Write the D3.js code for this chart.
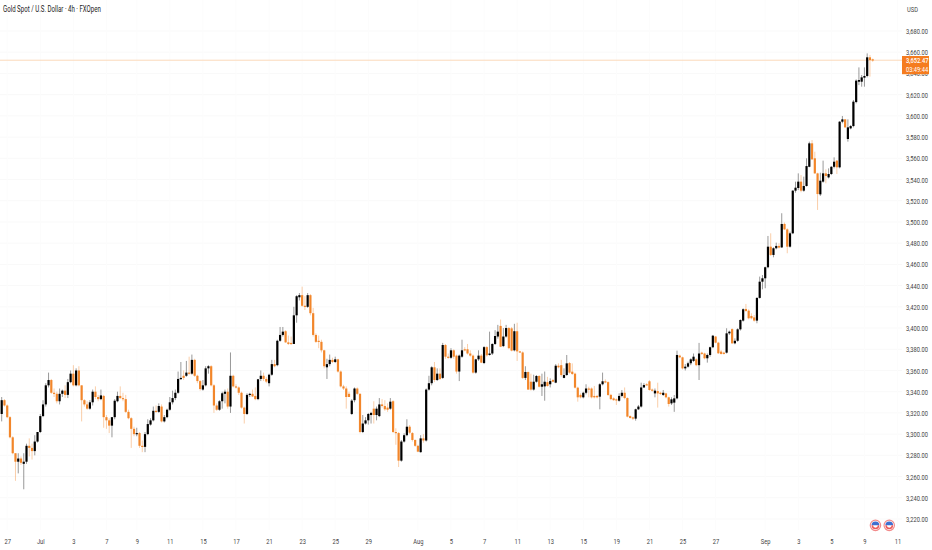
<!DOCTYPE html>
<html>
<head>
<meta charset="utf-8">
<title>Gold Spot / U.S. Dollar</title>
<script src="https://cdn.jsdelivr.net/npm/d3@7"></script>
<style>
    html, body { margin: 0; padding: 0; background: #ffffff; }
    svg { display: block; }
    text { font-family: Roboto, sans-serif; }
</style>
</head>
<body>
<svg id="vis"></svg>
<script>
// 4h candles, oldest first
const opens = [
    3319,3332,3327,3316,3297,3282,3274,3277,3272,3274,
    3289,3287,3284,3293,3302,3317,3328,3346,3351,3339,
    3338,3331,3338,3341,3337,3349,3357,3346,3360,3346,
    3332,3328,3324,3330,3340,3335,3333,3336,3316,3313,
    3308,3316,3331,3336,3334,3333,3321,3315,3305,3300,
    3301,3289,3288,3300,3309,3313,3322,3321,3326,3312,
    3316,3323,3330,3334,3339,3352,3355,3355,3358,3357,
    3370,3355,3350,3342,3346,3362,3364,3346,3327,3323,
    3331,3338,3340,3326,3355,3345,3344,3339,3325,3319,
    3337,3338,3336,3333,3352,3355,3352,3348,3356,3366,
    3365,3388,3393.5,3397,3386.5,3386,3385,3412,3429,3431,
    3421,3420,3431,3414,3393.5,3388,3387,3379,3363,3366,
    3370,3368,3370.5,3359,3345,3343,3338,3319,3332,3343,
    3338,3302,3310,3313,3318,3324,3318,3317,3328,3326.5,
    3325,3324,3331,3302,3301,3275,3293,3299,3307,3301,
    3294.5,3289,3283,3296,3294,3342,3348,3363,3351,3357,
    3353,3384,3373,3372,3379,3374,3359,3373,3380,3380,
    3376,3374,3358,3370.5,3374,3367,3382,3374.6,3376,3385,
    3392,3402,3383,3392,3400,3399.7,3379,3397,3378,3377,
    3353,3358.6,3349.4,3342,3349.4,3354.8,3344.7,3345,3349,3347,
    3351,3348.5,3364.5,3365,3353,3355.7,3367,3358.9,3357,3343.8,
    3337,3334.7,3339,3343,3343,3336,3336,3335.3,3347,3349.8,
    3349,3337,3333.7,3332.8,3331.5,3336,3339,3334,3317,3315.8,
    3314.6,3323.4,3326,3344,3347,3349.8,3342,3338.4,3340.6,3339,
    3336.9,3338.4,3334.7,3329,3329.7,3333.7,3374,3372.4,3362,3363.6,
    3366.8,3369,3370.5,3365,3376.8,3376,3371.5,3374.6,3381.9,3392,
    3386.2,3377.8,3376.8,3376.8,3395,3399,3385.6,3388,3398.8,3407,
    3418,3416.4,3411.4,3410,3407,3428.4,3443.7,3446.9,3457.3,3476.7,
    3468.9,3475.2,3477.4,3476,3498.1,3493,3476.7,3489.3,3529.5,3532,
    3538,3529.5,3533.9,3552,3574.1,3560,3545.8,3526,3538,3545.8,
    3542,3545.2,3552,3557.8,3551.5,3594.5,3596.7,3578.2,3588.2,3590.4,
    3613,3632.2,3632.2,3636,3637.6,3655.2,3653.3
];
const highs = [
    3335,3333,3328,3317,3298,3282,3282,3279,3282,3291,
    3296,3291,3299,3302,3319,3332,3348,3358,3352,3343,
    3340,3343,3342,3346,3352,3360,3365,3362,3364,3346,
    3333,3331,3332,3342,3345,3337,3342,3337,3318,3315,
    3316,3333,3340,3345,3339,3337,3323,3316,3307,3306,
    3302,3294,3302,3314,3315,3326,3327,3329,3328,3318,
    3324,3335,3341,3342,3359,3368,3360,3369,3373,3375,
    3371,3356,3351,3351,3364,3365,3365,3347,3329,3332,
    3340,3342,3343,3377,3356,3347,3345,3340,3326,3338.5,
    3339,3342,3344,3352,3360,3358,3354,3357,3370,3370,
    3389,3401,3401,3398,3393,3392,3420,3431,3433,3439,
    3430,3433,3432,3419,3395,3393,3389,3379.5,3371,3375,
    3372,3373,3371,3360,3346.5,3345,3340,3333,3344,3344,
    3338.5,3318,3316,3320,3321,3331,3326,3334,3333,3332,
    3329,3334,3332,3305.5,3302,3294.5,3300.8,3314,3308.6,3302,
    3295,3290,3299,3300,3343,3355,3364,3368,3362,3362,
    3386,3385,3376,3381,3380,3375,3375,3389,3382,3385,
    3379,3375,3371,3379,3375.5,3383,3383,3396.6,3385.6,3398,
    3403,3408,3400,3403,3401,3401,3404,3405,3378.5,3378,
    3364,3359,3357,3356,3355.7,3355.7,3357,3359,3354,3352.6,
    3352,3366,3366.7,3370,3362,3374.6,3368,3366.7,3358,3344.7,
    3338.5,3340,3347,3344.7,3344,3345.4,3337,3348,3358,3351.6,
    3349.8,3338,3334.7,3333.7,3338.5,3341.6,3344,3334.7,3317.7,3316.5,
    3324,3327.5,3348.5,3348,3348,3351,3343,3343,3348.5,3340,
    3341.6,3339,3335.3,3334.7,3336.9,3378.7,3375,3373,3366,3368.3,
    3371.5,3376,3371.5,3386,3377.7,3376.8,3376,3382.5,3393.5,3392.5,
    3387,3379.3,3377.7,3399.8,3397.6,3399.8,3390.3,3399.8,3408.2,3418.6,
    3422.7,3417.7,3413.9,3412.3,3429,3448.5,3450,3457.9,3486.8,3489.3,
    3476.1,3480.5,3479.9,3508.2,3499.4,3494,3490.9,3530,3538,3545.8,
    3544.2,3542.7,3560,3575.7,3577.2,3566.2,3546.4,3546.4,3557.8,3549.6,
    3550.5,3552.7,3560.9,3558.4,3595.1,3599.9,3597,3596.7,3591.4,3615,
    3634.4,3645.7,3638.5,3645.7,3658.9,3657.4,3654
];
const lows = [
    3312,3326,3315,3296,3281,3256,3263,3271,3248,3272,
    3279,3276,3280,3292,3301,3316,3326,3344,3338,3335,
    3329,3328,3335,3334,3334,3348,3345,3345,3345,3312,
    3326,3323,3323,3327,3333,3331,3332,3306,3305,3301,
    3297,3314,3330,3333,3331,3320,3314,3287,3298,3298,
    3287,3283,3283,3299,3308,3312,3320,3320,3311,3311,
    3315,3322,3328,3332,3338,3351,3351,3354,3356,3356,
    3354,3348,3341,3341,3345,3357,3345,3320,3322,3322,
    3324,3329,3324,3320,3344,3343,3337,3324,3310,3318,
    3335,3335,3332,3332,3350,3350,3348,3345,3355,3363,
    3364,3387,3392,3386,3384,3384,3385,3405,3426,3420,
    3417,3419,3412,3392,3386,3381,3377,3362,3352,3364,
    3367,3367,3358,3344,3341.6,3324,3335,3318,3330,3337,
    3300.8,3301,3309,3309,3310,3310,3313,3316,3325,3322,
    3321,3323,3301,3290,3269,3274,3292,3298,3300,3293,
    3288,3283,3282.5,3292,3293,3341,3346,3349,3350,3351,
    3352,3371,3371,3371,3371,3357,3350,3372,3378,3375,
    3373,3357,3357,3369,3367,3366,3373,3374,3374.6,3384,
    3390,3382,3382,3391,3380,3378,3378,3369,3377,3352,
    3351,3341.6,3341,3341,3348.5,3344,3336,3331.5,3344.7,3344,
    3349,3348,3362,3354,3352.6,3355,3357,3355.7,3343,3330.6,
    3333.7,3333.7,3337.5,3334.7,3333.7,3333.7,3333.7,3323.4,3346,3348,
    3336,3332,3331.5,3327.5,3330.6,3334.7,3332.8,3315.8,3314.6,3313.3,
    3312.7,3322.7,3325,3343.5,3346,3341,3340,3334.7,3325,3337,
    3336,3333.7,3326,3327.5,3321,3332.8,3371.5,3361,3360,3362.7,
    3365,3368,3364,3351,3374.6,3370.5,3367.4,3373,3381,3385.6,
    3375.6,3375,3375,3376,3393.5,3385,3384.7,3387,3397.6,3406,
    3415.5,3408.2,3408.2,3406,3404.5,3427.7,3436.5,3437.5,3456.3,3467.9,
    3466.7,3474.2,3474.9,3475.5,3492.4,3470.5,3475.8,3488.5,3527.6,3530,
    3528,3528.5,3533.3,3551.5,3558.4,3545.2,3511.3,3524.5,3537,3536.4,
    3541,3544.2,3550.5,3545.2,3550.5,3593,3588.6,3575.7,3587.3,3589.2,
    3611.8,3629,3627.5,3627.5,3636.3,3637,3651
];
const closes = [
    3332,3327,3316,3297,3282,3274,3277,3273,3274,3289,
    3287,3284,3293,3302,3317,3328,3346,3351,3339,3338,
    3331,3338,3341,3337,3349,3357,3346,3360,3346,3332,
    3328,3324,3330,3340,3335,3333,3336.5,3316,3313,3308,
    3316,3331.5,3336,3334,3333,3321,3315,3305,3300,3301,
    3289,3288,3300,3309.5,3313,3322,3321,3326.5,3312,3316,
    3323,3330,3334,3339,3352,3353,3353,3358,3357,3370,
    3355,3350,3342.5,3346,3362,3364,3346,3327,3323,3331,
    3338.5,3340,3326,3355,3345,3344,3339,3325,3319,3337,
    3338,3335.5,3333,3351.7,3355,3352,3349.5,3356,3366,3364,
    3388,3393.5,3396.6,3386.5,3385,3385,3412,3430,3431,3421,
    3420,3431,3414,3393.5,3387,3387,3379,3364,3366,3370,
    3368,3370.5,3359,3345,3343,3335,3335,3331.6,3343,3338,
    3302,3310,3313,3319,3320,3318,3324,3328,3326.5,3323.4,
    3323,3330.6,3302,3301,3275,3293,3299,3307,3301.4,3294.5,
    3289,3283.5,3296,3294,3342,3348,3363,3351,3357,3352,
    3384,3373,3372.4,3379,3373,3359,3374,3379,3379,3376,
    3374,3358,3370.5,3374,3367.4,3382,3374.3,3376,3385,3392.5,
    3396.6,3382.4,3392,3400,3381,3378.7,3397,3378,3377,3353,
    3358.6,3342,3342,3349.4,3354.8,3344.7,3347,3349.4,3345.4,3350,
    3349.4,3364.5,3363,3355.7,3355.7,3366.7,3358,3356.7,3343.8,3334.7,
    3334.7,3339,3343,3342,3334.7,3334.7,3334.7,3347,3349.8,3349,
    3336.9,3333,3332,3332,3336,3339,3334,3316.5,3315.2,3314.6,
    3323.4,3326,3344,3346.3,3346.3,3341.6,3341,3341,3338.4,3337.8,
    3339,3334.7,3328.4,3332.8,3333.7,3374.6,3372.4,3362,3363.6,3366.8,
    3370.5,3373,3365,3376,3375.6,3371.5,3374.6,3381.9,3392.8,3386.2,
    3376.2,3375.6,3375.6,3395,3396.6,3385.6,3388,3398.8,3407.6,3417.7,
    3416,3409.2,3409.2,3407,3428.4,3443.7,3446.9,3457.3,3476.7,3468.9,
    3475.2,3477.4,3475.8,3498.1,3493,3476.7,3489.3,3529.5,3532.3,3538,
    3529.5,3533.9,3552.7,3574.1,3559,3545.8,3526.3,3538.9,3545.8,3543.3,
    3545.2,3552,3556.8,3551.5,3594.5,3596.7,3589.2,3589.2,3590.4,3613.4,
    3633.2,3633.8,3636.3,3637.6,3655.2,3652.6,3652.47
];

// price axis
const priceTicks = [3220,3240,3260,3280,3300,3320,3340,3360,3380,3400,3420,3440,
    3460,3480,3500,3520,3540,3560,3580,3600,3620,3640,3660,3680];

// time axis: bar number of each label
const timeBars = [2,14,26,38,49,61,73,85,97,109,121,133,151,163,175,187,199,211,223,235,247,259,277,289,301,313,325];
const timeLabels = ["27","Jul","3","7","9","11","15","17","21","23","25","29","Aug","5","7","11","13","15","19","21","25","27","Sep","3","5","9","11"];

const lastPrice = 3652.47;
const countdown = "03:49:44";
const eventBars = [317,322];    // US news flags under the last candles
const eventPrice = 3214;

const WIDTH = 932, HEIGHT = 550;
const ORANGE = "#f2862a";
const LABEL_COLOR = "#444444";

let svgCanvas = d3.select("#vis").attr("width", WIDTH).attr("height", HEIGHT);

let xScale = d3.scaleLinear().domain([0, closes.length - 1]).range([1.7, 872.7]);
let yScale = d3.scaleLinear().domain([3220, 3680]).range([519, 31]);

// the chart's labels are much narrower than any installed font, squeeze them
function squeeze(selection, factor){
    selection.attr("transform", function(){
        let x = +this.getAttribute("x") || 0;
        return "translate(" + x * (1 - factor) + ",0) scale(" + factor + ",1)";
    });
}

// very faint grid
svgCanvas.append("g").selectAll("line").data(priceTicks).enter().append("line")
    .attr("x1", 0).attr("x2", 902)
    .attr("y1", d => yScale(d)).attr("y2", d => yScale(d))
    .attr("stroke", "#f9f9f9");
svgCanvas.append("g").selectAll("line").data(timeBars).enter().append("line")
    .attr("x1", d => xScale(d)).attr("x2", d => xScale(d))
    .attr("y1", 0).attr("y2", 530)
    .attr("stroke", "#fcfcfc");

// last price line
svgCanvas.append("line")
    .attr("x1", 0).attr("x2", 902)
    .attr("y1", yScale(lastPrice)).attr("y2", yScale(lastPrice))
    .attr("stroke", "#fbd9ba");

// candles
let bars = closes.map((c, i) => i);
let candleColor = i => closes[i] >= opens[i] ? "#000000" : ORANGE;

svgCanvas.append("g").selectAll("line").data(bars).enter().append("line")
    .attr("x1", i => xScale(i)).attr("x2", i => xScale(i))
    .attr("y1", i => yScale(highs[i])).attr("y2", i => yScale(lows[i]))
    .attr("stroke", candleColor)
    .attr("stroke-opacity", 0.45)
    .attr("stroke-width", 0.9);

svgCanvas.append("g").selectAll("rect").data(bars).enter().append("rect")
    .attr("x", i => xScale(i) - 1.1)
    .attr("width", 2.2)
    .attr("y", i => yScale(Math.max(opens[i], closes[i])))
    .attr("height", i => Math.max(1.2, Math.abs(yScale(opens[i]) - yScale(closes[i]))))
    .attr("fill", candleColor);

// axes
let yAxis = d3.axisRight(yScale)
    .tickValues(priceTicks)
    .tickFormat(d3.format(",.2f"))
    .tickSize(0).tickPadding(0);
let yGroup = svgCanvas.append("g").attr("transform", "translate(906,0)").call(yAxis);
yGroup.select(".domain").remove();
yGroup.selectAll("text").attr("font-size", 8).attr("fill", LABEL_COLOR)
    .style("font-family", "Roboto, sans-serif")
    .call(squeeze, 0.72);

let xAxis = d3.axisBottom(xScale)
    .tickValues(timeBars)
    .tickFormat((d, i) => timeLabels[i])
    .tickSize(0).tickPadding(0);
let xGroup = svgCanvas.append("g").attr("transform", "translate(0,538)").call(xAxis);
xGroup.select(".domain").remove();
xGroup.selectAll("text").attr("font-size", 8).attr("fill", LABEL_COLOR)
    .style("font-family", "Roboto, sans-serif")
    .call(squeeze, 0.72);

// header and currency
svgCanvas.append("text").attr("x", 3).attr("y", 12.5)
    .attr("font-size", 9).attr("fill", "#222222")
    .text("Gold Spot / U.S. Dollar \u00b7 4h \u00b7 FXOpen")
    .call(squeeze, 0.68);
svgCanvas.append("text").attr("x", 907).attr("y", 12.5)
    .attr("font-size", 8).attr("fill", LABEL_COLOR)
    .text("USD")
    .call(squeeze, 0.72);

// price tag on the axis
let tagY = yScale(lastPrice);
svgCanvas.append("rect")
    .attr("x", 902).attr("y", tagY - 4.2).attr("width", 27).attr("height", 18.2)
    .attr("fill", "#f57c1f");
svgCanvas.append("text").attr("x", 906).attr("y", tagY + 2.8)
    .attr("font-size", 8).attr("font-weight", 500).attr("fill", "#ffffff")
    .text(d3.format(",.2f")(lastPrice))
    .call(squeeze, 0.72);
svgCanvas.append("text").attr("x", 906).attr("y", tagY + 11.5)
    .attr("font-size", 8).attr("fill", "#ffffff")
    .text(countdown)
    .call(squeeze, 0.72);

// news flags
let flags = svgCanvas.append("g").selectAll("g").data(eventBars).enter().append("g")
    .attr("transform", d => "translate(" + xScale(d) + "," + yScale(eventPrice) + ")");
flags.append("circle").attr("r", 5.2).attr("fill", "#ffffff").attr("stroke", "#f28b8b").attr("stroke-width", 1.2);
flags.append("path").attr("d", d3.arc()({innerRadius: 0, outerRadius: 3.9, startAngle: -Math.PI / 2, endAngle: Math.PI / 2})).attr("fill", "#3f6fd0");
flags.append("path").attr("d", d3.arc()({innerRadius: 2.4, outerRadius: 3.9, startAngle: Math.PI / 2, endAngle: Math.PI * 1.5})).attr("fill", "#ee5a5a");
</script>
</body>
</html>
